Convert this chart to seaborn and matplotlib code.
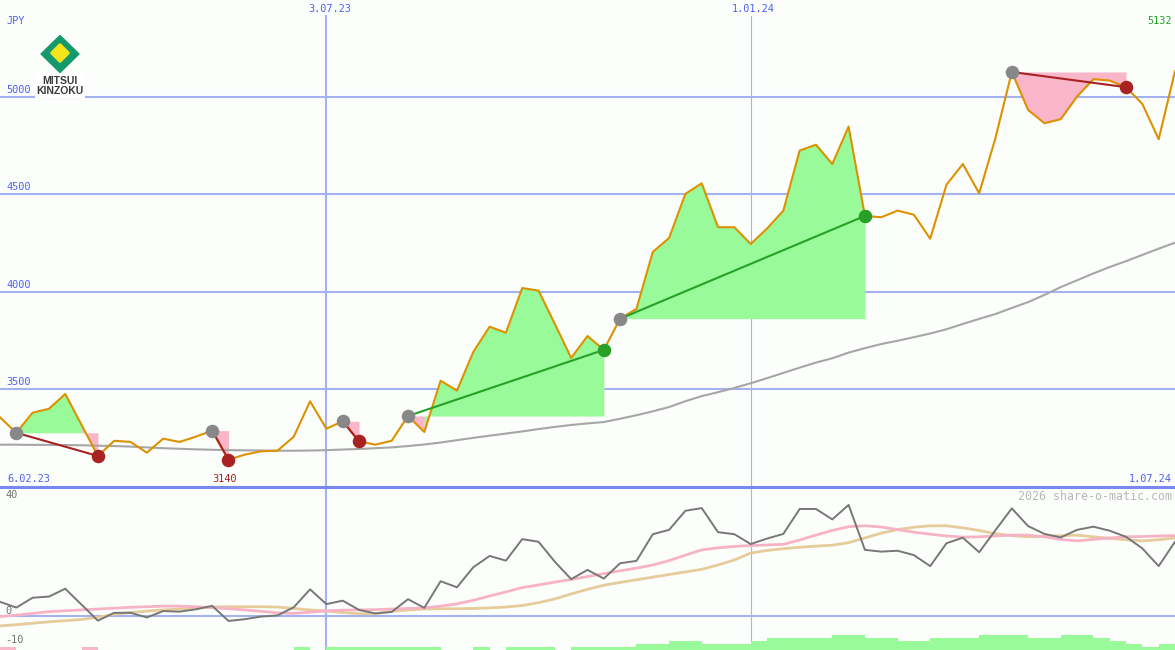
import numpy as np
import pandas as pd
import matplotlib
matplotlib.use("Agg")
import matplotlib.pyplot as plt
import matplotlib.dates as mdates
from matplotlib.patches import Polygon, Rectangle
from matplotlib.lines import Line2D
import seaborn as sns

# weekly closes, 13.02.23 .. 1.07.24
dates = pd.date_range("2023-02-13", periods=73, freq="7D")
price = [3357, 3278, 3381, 3401, 3477, 3318, 3159, 3237, 3231, 3176,
         3248, 3231, 3258, 3289, 3140, 3166, 3183, 3186, 3258, 3439,
         3299, 3337, 3234, 3217, 3237, 3364, 3282, 3545, 3494, 3692,
         3822, 3791, 4020, 4007, 3836, 3662, 3774, 3703, 3863, 3914,
         4205, 4277, 4503, 4557, 4332, 4332, 4246, 4325, 4417, 4725,
         4755, 4656, 4848, 4390, 4383, 4417, 4396, 4273, 4550, 4656,
         4506, 4790, 5128, 4933, 4865, 4886, 5002, 5091, 5084, 5050,
         4964, 4783, 5132]
ma_long = [3217, 3217, 3216, 3216, 3215, 3214, 3212, 3210, 3207, 3203,
           3199, 3196, 3193, 3191, 3189, 3188, 3187, 3186, 3186, 3187,
           3189, 3192, 3195, 3199, 3203, 3210, 3218, 3228, 3240, 3252,
           3263, 3274, 3285, 3297, 3308, 3318, 3326, 3333, 3350, 3368,
           3388, 3410, 3440, 3466, 3486, 3508, 3532, 3558, 3585, 3612,
           3638, 3660, 3689, 3712, 3733, 3750, 3768, 3787, 3809, 3836,
           3862, 3887, 3918, 3948, 3985, 4025, 4060, 4095, 4128, 4158,
           4190, 4222, 4253]

# lower panel
osc = [4.9, 2.9, 6.3, 6.7, 9.4, 3.9, -1.6, 1.1, 1.1, -0.5,
       1.7, 1.5, 2.3, 3.5, -1.7, -1.1, -0.2, 0.2, 3.0, 9.2,
       4.1, 5.3, 2.1, 0.9, 1.4, 5.8, 2.8, 12.0, 9.9, 16.8,
       20.7, 19.1, 26.5, 25.6, 18.7, 12.7, 15.9, 12.9, 18.2, 19.0,
       28.2, 29.7, 36.3, 37.2, 28.9, 28.2, 24.8, 26.7, 28.3, 36.9,
       36.9, 33.3, 38.3, 22.8, 22.2, 22.5, 21.0, 17.2, 25.1, 27.0,
       22.0, 29.6, 37.1, 31.0, 28.3, 27.1, 29.7, 30.8, 29.4, 27.3,
       23.3, 17.2, 25.6]
osc_fast = [-0.2, 0.3, 0.9, 1.5, 1.8, 2.1, 2.4, 2.7, 3.0, 3.2,
            3.4, 3.4, 3.2, 2.9, 2.5, 2.1, 1.6, 1.1, 0.9, 1.3,
            1.8, 2.0, 2.1, 2.2, 2.4, 2.6, 2.8, 3.4, 4.2, 5.4,
            6.9, 8.3, 9.8, 10.7, 11.7, 12.6, 13.6, 14.6, 15.6, 16.5,
            17.6, 19.1, 21.0, 22.8, 23.5, 24.0, 24.3, 24.5, 24.7, 26.2,
            27.9, 29.5, 30.8, 31.1, 30.7, 29.8, 28.9, 28.2, 27.6, 27.2,
            27.3, 27.6, 27.9, 27.9, 27.3, 26.4, 25.9, 26.4, 26.9, 27.3,
            27.4, 27.6, 27.7]
osc_slow = [-3.4, -3.0, -2.5, -2.0, -1.6, -1.2, -0.4, 0.6, 1.2, 1.7,
            2.1, 2.4, 2.8, 3.1, 3.2, 3.2, 3.2, 3.1, 2.6, 2.1,
            1.7, 1.2, 0.8, 0.8, 1.6, 2.1, 2.4, 2.5, 2.5, 2.6,
            2.8, 3.1, 3.6, 4.6, 5.9, 7.6, 9.2, 10.6, 11.6, 12.5,
            13.4, 14.3, 15.2, 16.1, 17.6, 19.3, 21.7, 22.6, 23.2, 23.7,
            24.1, 24.4, 25.3, 26.9, 28.6, 29.8, 30.6, 31.1, 31.1, 30.4,
            29.5, 28.4, 27.7, 27.3, 27.4, 27.7, 27.9, 27.3, 26.8, 26.3,
            25.9, 26.3, 26.9]
hist = [0, -1, 0, 0, 0, 0, -1, 0, 0, 0,
        0, 0, 0, 0, 0, 0, 0, 0, 0, 1,
        0, 1, 1, 1, 1, 1, 1, 1, 0, 0,
        1, 0, 1, 1, 1, 0, 1, 1, 1, 1,
        2, 2, 3, 3, 2, 2, 2, 3, 4, 4,
        4, 4, 5, 5, 4, 4, 3, 3, 4, 4,
        4, 5, 5, 5, 4, 4, 5, 5, 4, 3,
        2, 1, 2]

trade_entry = [1, 13, 21, 25, 38, 62]
trade_exit = [6, 14, 22, 37, 53, 69]

price_ticks = [3500, 4000, 4500, 5000]
osc_ticks = [40, 0, -10]
mark_dates = ["2023-07-03", "2024-01-01"]
mark_labels = ["3.07.23", "1.01.24"]
range_labels = ["6.02.23", "1.07.24"]
currency = "JPY"
logo_lines = ["MITSUI", "KINZOKU"]
watermark = "2026 share-o-matic.com"

BG = "#fcfefc"
GRID = "#a4b2f2"
BLUE_TXT = "#5060f0"
ORANGE = "#dc9200"
GREEN_FILL = "#98fa98"
PINK_FILL = "#f9b5c9"
WIN = "#28a028"
LOSS = "#a82222"
MONO = "DejaVu Sans Mono"
FS = 7.4

x = mdates.date2num(dates)
price = np.array(price, dtype=float)

fig = plt.figure(figsize=(11.75, 6.5), dpi=100, facecolor=BG)
ax = fig.add_axes([0, 163 / 650, 1, 487 / 650], facecolor=BG)
ax2 = fig.add_axes([0, 0, 1, 163 / 650], facecolor=BG)

# ---- main panel
for v in price_ticks:
    ax.axhline(v, color=GRID, lw=1.5, zorder=0.5)
    ax.annotate(str(v), xy=(0, v), xycoords=("axes fraction", "data"),
                xytext=(6, 2), textcoords="offset pixels", ha="left", va="bottom",
                color=BLUE_TXT, fontsize=FS, family=MONO)

for d, lab, w in zip(mark_dates, mark_labels, [1.5, 0.8]):
    xd = mdates.date2num(pd.Timestamp(d))
    ax.axvline(xd, ymax=(487 - 16) / 487, color=GRID, lw=w, zorder=0.5)
    ax2.axvline(xd, color=GRID, lw=w, zorder=0.5)
    ax.annotate(lab, xy=(xd, 1), xycoords=("data", "axes fraction"),
                xytext=(3, -9), textcoords="offset pixels", ha="center", va="center",
                color=BLUE_TXT, fontsize=FS, family=MONO)

# trades: fill between price and entry level, green above / pink below
for e, q in zip(trade_entry, trade_exit):
    level = price[e]
    seg = ["g" if price[i + 1] >= level else "p" for i in range(e, q)]
    a = 0
    while a < len(seg):
        b = a
        while b + 1 < len(seg) and seg[b + 1] == seg[a]:
            b += 1
        i0, i1 = e + a, e + b + 1
        ax.fill_between(x[i0:i1 + 1], price[i0:i1 + 1], level,
                        color=GREEN_FILL if seg[a] == "g" else PINK_FILL,
                        lw=0, zorder=1)
        a = b + 1
    col = WIN if price[q] > level else LOSS
    ax.plot([x[e], x[q]], [level, price[q]], color=col, lw=1.5, zorder=4)
    ax.scatter([x[e]], [level], s=95, color="#888888", lw=0, zorder=5)
    ax.scatter([x[q]], [price[q]], s=95, color=col, lw=0, zorder=5)

sns.lineplot(x=x, y=ma_long, ax=ax, color="#a6a6a6", lw=1.5,
             estimator=None, legend=False, zorder=2)
sns.lineplot(x=x, y=price, ax=ax, color=ORANGE, lw=1.5,
             estimator=None, legend=False, zorder=3)

ax.set_xlim(x[0], x[-1])
ax.set_ylim(3000, 5497)

ax.annotate(currency, xy=(0, 1), xycoords="axes fraction", xytext=(6, -21),
            textcoords="offset pixels", ha="left", va="center",
            color=BLUE_TXT, fontsize=FS, family=MONO)
ax.annotate(f"{price[-1]:.0f}", xy=(1, 1), xycoords="axes fraction", xytext=(-3, -21),
            textcoords="offset pixels", ha="right", va="center",
            color=WIN, fontsize=FS, family=MONO)
imin = int(np.argmin(price))
ax.annotate(f"{price[imin]:.0f}", xy=(x[imin], 0), xycoords=("data", "axes fraction"),
            xytext=(-4, 8), textcoords="offset pixels", ha="center", va="center",
            color=LOSS, fontsize=FS, family=MONO)
ax.annotate(range_labels[0], xy=(0, 0), xycoords="axes fraction", xytext=(7, 8),
            textcoords="offset pixels", ha="left", va="center",
            color=BLUE_TXT, fontsize=FS, family=MONO)
ax.annotate(range_labels[1], xy=(1, 0), xycoords="axes fraction", xytext=(-3, 8),
            textcoords="offset pixels", ha="right", va="center",
            color=BLUE_TXT, fontsize=FS, family=MONO)

# ---- lower panel
lo = -11.72
ax2.axhline(0, color=GRID, lw=1.5, zorder=0.5)
hv = np.array(hist[1:], dtype=float)
ax2.bar(x[:-1], np.abs(hv), width=7, align="edge", bottom=lo,
        color=[GREEN_FILL if h > 0 else PINK_FILL for h in hv], lw=0, zorder=1)
sns.lineplot(x=x, y=osc_slow, ax=ax2, color="#e6cb9b", lw=2,
             estimator=None, legend=False, zorder=2)
sns.lineplot(x=x, y=osc_fast, ax=ax2, color="#f7b3c6", lw=2,
             estimator=None, legend=False, zorder=3)
sns.lineplot(x=x, y=osc, ax=ax2, color="#777777", lw=1.4,
             estimator=None, legend=False, zorder=4)
ax2.set_xlim(x[0], x[-1])
ax2.set_ylim(lo, 44.48)
for v in osc_ticks:
    ax2.annotate(str(v), xy=(0, v), xycoords=("axes fraction", "data"),
                 xytext=(5, 5), textcoords="offset pixels", ha="left", va="center",
                 color="#707070", fontsize=FS, family=MONO)
ax2.annotate(watermark, xy=(1, 1), xycoords="axes fraction", xytext=(-3, -9),
             textcoords="offset pixels", ha="right", va="center",
             color="#b8b8b8", fontsize=8.4, family=MONO)

for a in (ax, ax2):
    for s in a.spines.values():
        s.set_visible(False)
    a.set_xticks([])
    a.set_yticks([])
    a.set_xlabel("")
    a.set_ylabel("")

fig.add_artist(Line2D([0, 1], [163 / 650, 163 / 650], transform=fig.transFigure,
                      color="#7888ee", lw=2.2, zorder=20))

# ---- logo
lax = fig.add_axes([0, 0, 1, 1], zorder=10)
lax.set_xlim(0, 1175)
lax.set_ylim(650, 0)
lax.axis("off")
lax.add_patch(Polygon([(60, 35.5), (79, 54), (60, 72.5), (41, 54)], closed=True,
                      fc="#14986c", ec="#14986c", lw=1, joinstyle="round"))
lax.add_patch(Polygon([(60, 45), (68, 53), (60, 61), (52, 53)], closed=True,
                      fc="#f3e41c", ec="#f3e41c", lw=2.5, joinstyle="round"))
lax.add_patch(Rectangle((35, 75), 50, 23, fc="white", ec="none"))
lax.text(60, 81.5, logo_lines[0], ha="center", va="center", fontsize=7.5,
         fontweight="bold", family="Liberation Sans", color="#3a3a3a")
lax.text(60, 91.5, logo_lines[1], ha="center", va="center", fontsize=7.5,
         fontweight="bold", family="Liberation Sans", color="#3a3a3a")

fig.savefig("out.png", dpi=100, facecolor=BG)
